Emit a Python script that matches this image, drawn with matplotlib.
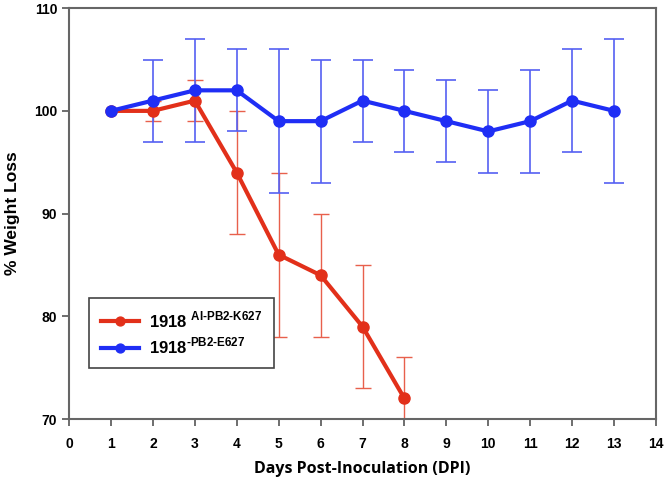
import numpy as np
import matplotlib
matplotlib.use("Agg")
import matplotlib.pyplot as plt

plt.rcParams['mathtext.fontset'] = 'custom'
plt.rcParams['mathtext.rm'] = 'Liberation Sans'
plt.rcParams['mathtext.bf'] = 'Liberation Sans:bold'

# data
days_blue = [1, 2, 3, 4, 5, 6, 7, 8, 9, 10, 11, 12, 13]
blue_mean = [100, 101, 102, 102, 99, 99, 101, 100, 99, 98, 99, 101, 100]
blue_low = [100, 97, 97, 98, 92, 93, 97, 96, 95, 94, 94, 96, 93]
blue_high = [100, 105, 107, 106, 106, 105, 105, 104, 103, 102, 104, 106, 107]

days_red = [1, 2, 3, 4, 5, 6, 7, 8]
red_mean = [100, 100, 101, 94, 86, 84, 79, 72]
red_low = [100, 99, 99, 88, 78, 78, 73, 68]
red_high = [100, 101, 103, 100, 94, 90, 85, 76]

red_label = '1918 $^{\\mathbf{AI‐PB2‐K627}}$'
blue_label = '1918$^{\\mathbf{‐PB2‐E627}}$'

RED = '#e2301a'
BLUE = '#1f2ef5'

fig = plt.figure(figsize=(6.66, 4.8), dpi=100)
ax = fig.add_axes([0.1036, 0.127, 0.8814, 0.856])

# day 1 has no spread, skip its error bar
rm = np.array(red_mean[1:])
ax.errorbar(days_red[1:], red_mean[1:],
            yerr=[rm - np.array(red_low[1:]), np.array(red_high[1:]) - rm],
            fmt='none', ecolor='#e8604c', elinewidth=1.0, capsize=6, capthick=1.0, zorder=2)
bm = np.array(blue_mean[1:])
ax.errorbar(days_blue[1:], blue_mean[1:],
            yerr=[bm - np.array(blue_low[1:]), np.array(blue_high[1:]) - bm],
            fmt='none', ecolor='#5560f2', elinewidth=1.2, capsize=7, capthick=1.2, zorder=3)

ax.plot(days_red, red_mean, color=RED, lw=3, marker='o', ms=8, label=red_label, zorder=4)
ax.plot(days_blue, blue_mean, color=BLUE, lw=3, marker='o', ms=8, label=blue_label, zorder=5)

ax.set_xlim(0, 14)
ax.set_ylim(70, 110)
ax.set_xticks(range(0, 15))
ax.set_yticks([70, 80, 90, 100, 110])
for lbl in ax.get_xticklabels() + ax.get_yticklabels():
    lbl.set_fontweight('bold')
    lbl.set_fontfamily('Liberation Sans')
ax.tick_params(axis='both', labelsize=10, length=5, width=1.2, color='#555555', direction='out')
ax.tick_params(axis='x', pad=8)

for s in ax.spines.values():
    s.set_color('#666666')
    s.set_linewidth(1.5)

ax.set_xlabel('Days Post-Inoculation (DPI)', fontsize=11.5, fontweight='bold',
              family='Open Sans', labelpad=7)
ax.set_ylabel('% Weight Loss', fontsize=12.5, fontweight='bold',
              family='Liberation Sans', labelpad=10)

leg = ax.legend(loc='lower left', bbox_to_anchor=(0.034, 0.124), borderaxespad=0,
                fancybox=False, edgecolor='#444444', framealpha=1, borderpad=0.7,
                handlelength=2.3, handletextpad=0.6, markerscale=0.8,
                prop={'family': 'Liberation Sans', 'weight': 'bold', 'size': 12},
                labelspacing=0.35)
leg.get_frame().set_linewidth(1.2)

fig.savefig('out.png', dpi=100)
